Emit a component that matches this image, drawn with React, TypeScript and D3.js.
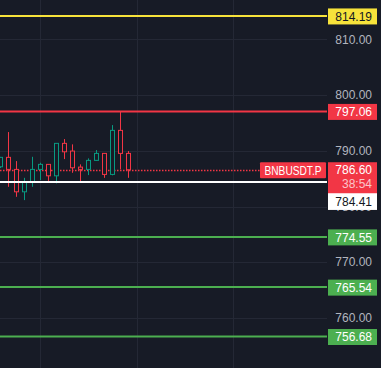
import React, { useEffect, useRef } from "react";
import * as d3 from "d3";

// candles, left to right
const opens = [787.13, 788.82, 786.66, 782.64, 784.43, 786.66, 787.56, 785.51, 791.33, 789.95, 787.07, 786.66, 788.28, 789.53, 785.76, 793.66, 789.53];
const highs = [788.9, 793.36, 788.15, 785.15, 788.92, 787.85, 787.6, 791.33, 792.1, 791.15, 787.56, 788.64, 790.13, 789.6, 794.61, 797.06, 789.95];
const lows = [786.9, 783.54, 781.74, 781.15, 783.54, 784.74, 784.33, 784.15, 788.51, 786.05, 784.43, 785.64, 788.2, 785.15, 785.6, 786.66, 785.15];
const closes = [788.82, 786.66, 782.64, 784.43, 786.66, 787.56, 785.51, 791.33, 789.82, 786.95, 786.66, 788.28, 789.53, 785.76, 793.66, 789.53, 786.6];

// price axis ticks
const ticks = [810, 800, 790, 780, 770, 760];

// horizontal levels
const levelPrices = [814.19, 797.06, 774.55, 765.54, 756.68];
const levelColors = ["#f7e33b", "#f23645", "#4caf50", "#4caf50", "#4caf50"];
const levelText = ["#131722", "#ffffff", "#ffffff", "#ffffff", "#ffffff"];

const lastPrice = 786.6;
const countdown = "38:54";
const symbol = "BNBUSDT.P";
const whiteLevel = 784.41;

export default function App() {
  const ref = useRef<SVGSVGElement>(null);

  useEffect(() => {
    const svg = d3.select(ref.current);
    svg.selectAll("*").remove();

    const width = 381;
    const height = 368;
    const plotRight = 327;
    const bg = "#171b26";
    const up = "#089981";
    const down = "#f23645";
    const font = "'Liberation Sans', Arial, sans-serif";

    const x = d3.scaleLinear().domain([0, 16]).range([0.3, 128.3]);
    const y = d3.scaleLinear().domain([760, 810]).range([318, 39.3]);

    svg.append("rect").attr("width", width).attr("height", height).attr("fill", bg);

    // grid
    const grid = svg.append("g").attr("stroke", "#242835").attr("stroke-width", 1);
    grid.selectAll("line.h")
      .data(ticks)
      .join("line")
      .attr("x1", 0)
      .attr("x2", plotRight)
      .attr("y1", d => Math.round(y(d)) + 0.5)
      .attr("y2", d => Math.round(y(d)) + 0.5);
    grid.selectAll("line.v")
      .data([40, 136.5, 233])
      .join("line")
      .attr("x1", d => Math.round(d) + 0.5)
      .attr("x2", d => Math.round(d) + 0.5)
      .attr("y1", 0)
      .attr("y2", height);

    // axis labels
    svg.append("g")
      .selectAll("text")
      .data(ticks)
      .join("text")
      .attr("x", 372)
      .attr("y", d => y(d))
      .attr("dy", "0.35em")
      .attr("text-anchor", "end")
      .attr("font-family", font)
      .attr("font-size", 12)
      .attr("fill", "#b2b5be")
      .text(d => d.toFixed(2));

    // dotted last price line
    svg.append("line")
      .attr("x1", 0)
      .attr("x2", plotRight)
      .attr("y1", Math.round(y(lastPrice)) + 0.5)
      .attr("y2", Math.round(y(lastPrice)) + 0.5)
      .attr("stroke", down)
      .attr("stroke-width", 1.5)
      .attr("stroke-dasharray", "1.5 1.5");

    // candles
    const idx = d3.range(opens.length);
    const cg = svg.append("g");
    cg.selectAll("line")
      .data(idx)
      .join("line")
      .attr("x1", i => Math.round(x(i)) + 0.5)
      .attr("x2", i => Math.round(x(i)) + 0.5)
      .attr("y1", i => y(highs[i]))
      .attr("y2", i => y(lows[i]))
      .attr("stroke", i => (closes[i] >= opens[i] ? up : down));
    cg.selectAll("rect")
      .data(idx)
      .join("rect")
      .attr("x", i => Math.round(x(i)) - 1.5)
      .attr("width", 4)
      .attr("y", i => y(Math.max(opens[i], closes[i])))
      .attr("height", i => Math.max(1, Math.abs(y(opens[i]) - y(closes[i]))))
      .attr("fill", bg)
      .attr("stroke", i => (closes[i] >= opens[i] ? up : down))
      .attr("stroke-width", 1);

    // white level line
    svg.append("line")
      .attr("x1", 0)
      .attr("x2", plotRight)
      .attr("y1", y(whiteLevel))
      .attr("y2", y(whiteLevel))
      .attr("stroke", "#ffffff")
      .attr("stroke-width", 2);

    // colored levels
    const lv = svg.append("g");
    levelPrices.forEach((p, k) => {
      lv.append("line")
        .attr("x1", 0)
        .attr("x2", plotRight)
        .attr("y1", y(p))
        .attr("y2", y(p))
        .attr("stroke", levelColors[k])
        .attr("stroke-width", 2);
      lv.append("rect")
        .attr("x", 328)
        .attr("y", y(p) - 7.5)
        .attr("width", 49)
        .attr("height", 16)
        .attr("fill", levelColors[k]);
      lv.append("text")
        .attr("x", 372)
        .attr("y", y(p) + 0.5)
        .attr("dy", "0.35em")
        .attr("text-anchor", "end")
        .attr("font-family", font)
        .attr("font-size", 12)
        .attr("fill", levelText[k])
        .text(p.toFixed(2));
    });

    // white level label
    svg.append("rect")
      .attr("x", 328)
      .attr("y", y(whiteLevel) + 11)
      .attr("width", 49)
      .attr("height", 17)
      .attr("fill", "#ffffff");
    svg.append("text")
      .attr("x", 372)
      .attr("y", y(whiteLevel) + 20)
      .attr("dy", "0.35em")
      .attr("text-anchor", "end")
      .attr("font-family", font)
      .attr("font-size", 12)
      .attr("fill", "#131722")
      .text(whiteLevel.toFixed(2));

    // last price label with countdown
    const ly = y(lastPrice);
    svg.append("rect")
      .attr("x", 328)
      .attr("y", ly - 7.5)
      .attr("width", 49)
      .attr("height", 31)
      .attr("fill", down);
    svg.append("text")
      .attr("x", 372)
      .attr("y", ly + 0.5)
      .attr("dy", "0.35em")
      .attr("text-anchor", "end")
      .attr("font-family", font)
      .attr("font-size", 12)
      .attr("fill", "#ffffff")
      .text(lastPrice.toFixed(2));
    svg.append("text")
      .attr("x", 372)
      .attr("y", ly + 14)
      .attr("dy", "0.35em")
      .attr("text-anchor", "end")
      .attr("font-family", font)
      .attr("font-size", 12)
      .attr("fill", "#fbc5ca")
      .text(countdown);

    // symbol tag
    svg.append("rect")
      .attr("x", 260)
      .attr("y", ly - 7.5)
      .attr("width", 66)
      .attr("height", 16)
      .attr("rx", 1)
      .attr("fill", down);
    svg.append("text")
      .attr("x", 293)
      .attr("y", ly + 0.5)
      .attr("dy", "0.35em")
      .attr("text-anchor", "middle")
      .attr("font-family", font)
      .attr("font-size", 12.5)
      .attr("textLength", 57)
      .attr("lengthAdjust", "spacingAndGlyphs")
      .attr("fill", "#ffffff")
      .text(symbol);
  }, []);

  return (
    <svg
      ref={ref}
      width={381}
      height={368}
      style={{ position: "fixed", left: 0, top: 0, display: "block" }}
    />
  );
}
